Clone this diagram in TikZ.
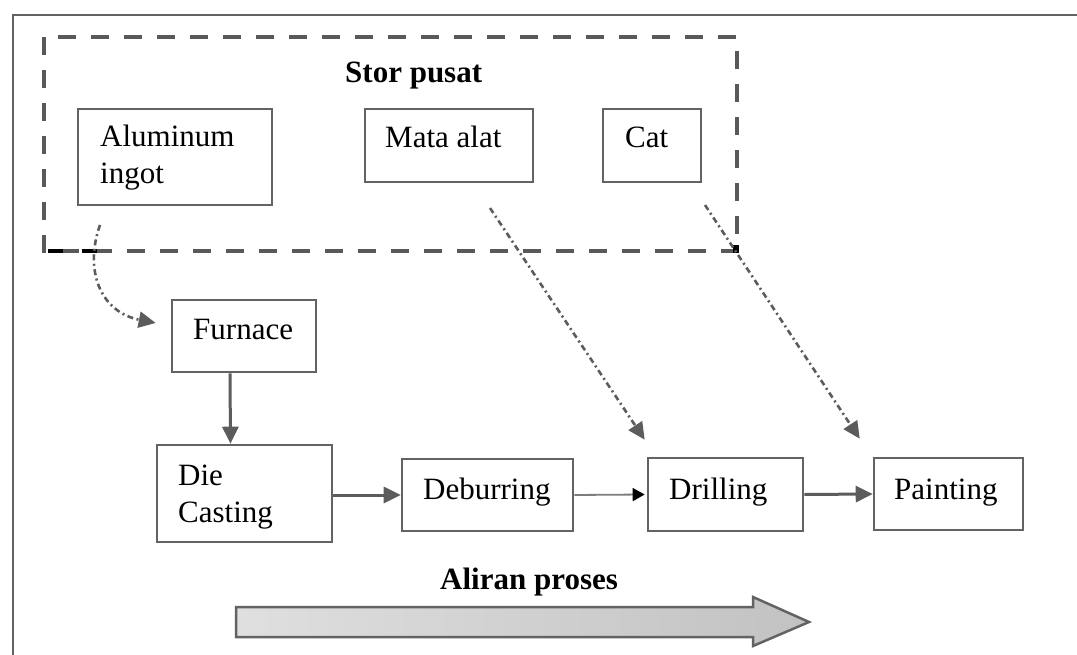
\documentclass[tikz,border=0pt]{standalone}
\usepackage{fontspec}
\setmainfont{Liberation Serif}
\usetikzlibrary{arrows.meta}
\definecolor{boxgray}{HTML}{636363}
\definecolor{linegray}{HTML}{5C5C5C}
\definecolor{dashgray}{HTML}{595959}
\begin{document}
\begin{tikzpicture}[x=1pt,y=-1pt,
  box/.style={draw=boxgray,line width=2.6pt,inner sep=0pt,fill=white},
  lbl/.style={anchor=base west,inner sep=0pt,font=\fontsize{31}{34}\selectfont},
  blbl/.style={anchor=base west,inner sep=0pt,font=\fontsize{31}{34}\selectfont\bfseries},
  flow/.style={draw=linegray,line width=3pt,-{Triangle[length=17pt,width=16pt]}},
  thinflow/.style={draw=linegray!80,line width=1.8pt,-{Triangle[length=12pt,width=13pt,color=black]}},
  dd/.style={draw=linegray,line width=2.6pt,dash pattern=on 6pt off 3.5pt on 2pt off 3.5pt,-{Triangle[length=17pt,width=16pt]}}]
\useasboundingbox (0,0) rectangle (1077,655);
% outer frame (only left and top visible)
\draw[draw=boxgray,line width=2.5pt] (13,655) -- (13,15) -- (1077,15);
% dashed store region
\draw[draw=dashgray,line width=4pt,dash pattern=on 18pt off 15pt] (44,37) rectangle (737,251);
\fill[black] (48,249) rectangle (63,253);
\fill[black] (82,249) rectangle (97,253);
\fill[black] (733,245) rectangle (739,253);
% boxes
\node[box,minimum width=194pt,minimum height=96pt] (alu) at (175,157) {};
\node[box,minimum width=168pt,minimum height=73pt] (mata) at (449,145.5) {};
\node[box,minimum width=98pt,minimum height=73pt] (cat) at (652,145.5) {};
\node[box,minimum width=144pt,minimum height=72pt] (furn) at (244,336) {};
\node[box,minimum width=175pt,minimum height=97pt] (die) at (244.5,493.5) {};
\node[box,minimum width=171pt,minimum height=72pt] (deb) at (487.5,495) {};
\node[box,minimum width=155pt,minimum height=73pt] (drill) at (725.5,494.5) {};
\node[box,minimum width=149pt,minimum height=72pt] (paint) at (948.5,494) {};
% labels
\node[blbl] (tstor) at (345,83) {Stor pusat};
\node[lbl] (talu1) at (100,147) {Aluminum};
\node[lbl] (talu2) at (100,184) {ingot};
\node[lbl] (tmata) at (385,148) {Mata alat};
\node[lbl] (tcat) at (625,148) {Cat};
\node[lbl] (tfurn) at (193,339) {Furnace};
\node[lbl] (tdie1) at (178,485) {Die};
\node[lbl] (tdie2) at (178,522) {Casting};
\node[lbl] (tdeb) at (423,499) {Deburring};
\node[lbl] (tdrill) at (669,499) {Drilling};
\node[lbl] (tpaint) at (894,499) {Painting};
\node[blbl] (tflow) at (440,589) {Aliran proses};
% material supply connectors
\coordinate (aluS) at (100,225);
\coordinate (mataS) at (490,208);
\coordinate (catS) at (705,205);
\draw[dd] (aluS) .. controls (84,270) and (100,312) .. ([xshift=-15pt,yshift=13pt]furn.west);
\draw[dd] (mataS) -- ([xshift=-2pt,yshift=17pt]drill.north west);
\draw[dd] (catS) -- ([xshift=-13pt,yshift=18pt]paint.north west);
% process flow
\draw[flow] ([xshift=-14pt]furn.south) -- ([xshift=-14pt]die.north);
\draw[flow] (die.east |- deb.west) -- (deb.west);
\draw[thinflow] (deb.east) -- ([xshift=-2pt]drill.west);
\draw[flow] (drill.east) -- (paint.west);
% big process arrow
\shade[left color=gray!25,right color=gray!48,draw=boxgray,line width=2.5pt]
  (236,607) -- (753,607) -- (753,597) -- (809,622) -- (753,646) -- (753,637) -- (236,637) -- cycle;
\end{tikzpicture}
\end{document}
